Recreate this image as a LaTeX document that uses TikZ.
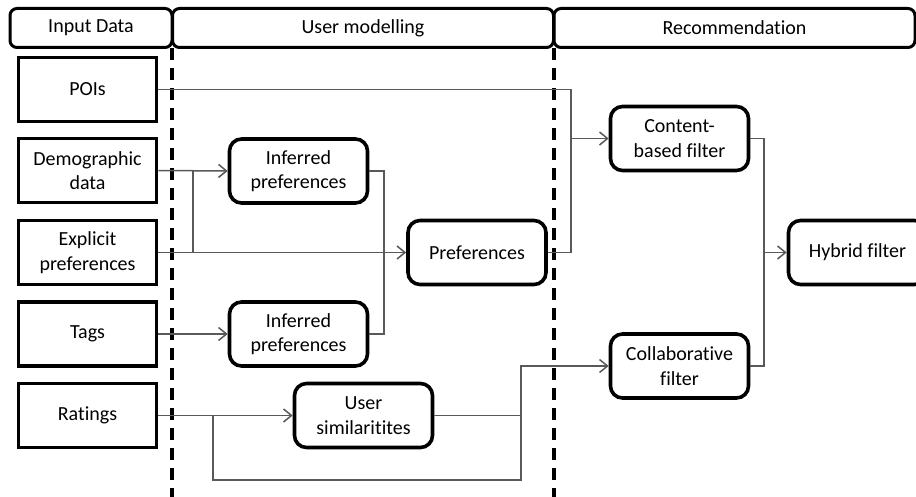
\documentclass[tikz,border=0pt]{standalone}
\usepackage{fontspec}
\setmainfont{Carlito}[RawFeature=-liga]
\usetikzlibrary{arrows.meta}
\begin{document}
\begin{tikzpicture}[x=1pt,y=-1pt,
  every node/.style={font=\fontsize{20}{24.5}\selectfont, align=center, inner sep=0pt},
  hdr/.style={draw, line width=3pt, rounded corners=7pt, minimum height=39pt},
  inbox/.style={draw, line width=3.6pt, minimum width=138pt, minimum height=64pt},
  rbox/.style={draw, line width=3.6pt, rounded corners=12pt, minimum width=138pt, minimum height=64pt},
  conn/.style={draw=black!65, line width=1.5pt},
  arr/.style={conn, -{Straight Barb[length=8pt,width=13pt,line width=1.5pt]}},
  lane/.style={line width=3.4pt, dash pattern=on 12pt off 8pt}
]
\useasboundingbox (0,0) rectangle (916,497);
\fill[white] (0,0) rectangle (916,497);

% lane separators
\coordinate (l1t) at (172,48);
\coordinate (l1b) at (172,497);
\coordinate (l2t) at (554,48);
\coordinate (l2b) at (554,497);
\draw[lane] (l1t) -- (l1b);
\draw[lane] (l2t) -- (l2b);

% headers
\node[hdr, minimum width=162pt] (h1) at (91,28) {Input Data};
\node[hdr, minimum width=381pt] (h2) at (363,28) {User modelling};
\node[hdr, minimum width=361pt] (h3) at (734.5,28) {Recommendation};

% input boxes
\node[inbox] (poi) at (87.5,89.5) {POIs};
\node[inbox] (demo) at (87.5,170.5) {Demographic\\data};
\node[inbox] (expl) at (87.5,252.5) {Explicit\\preferences};
\node[inbox] (tags) at (87.5,334) {Tags};
\node[inbox] (rat) at (87.5,415.5) {Ratings};

% user modelling boxes
\node[rbox] (inf1) at (298.5,171) {Inferred\\preferences};
\node[rbox] (inf2) at (298.5,334) {Inferred\\preferences};
\node[rbox] (pref) at (477,252.5) {Preferences};
\node[rbox] (usim) at (363.5,415.5) {User\\similaritites};

% recommendation boxes
\node[rbox] (cont) at (679.5,138.5) {Content-\\based filter};
\node[rbox] (coll) at (679.5,366) {Collaborative\\filter};
\node[rbox] (hyb) at (857.5,252.5) {Hybrid filter};

% connectors
\draw[arr] (poi.east) -| (571,138.5) -- (cont.west);
\draw[conn] (pref.east) -| (571,138.5);

\draw[arr] (demo.east) -- (inf1.west);
\draw[conn] (193,170.5) -- (193,252.5);
\draw[arr] (expl.east) -- (pref.west);

\draw[conn] (inf1.east) -| (384,334) -- (inf2.east);
\draw[arr] (tags.east) -- (inf2.west);

\draw[arr] (rat.east) -- (usim.west);
\draw[conn] (213,415.5) |- (521,480) -- (521,415.5);
\draw[conn] (usim.east) -- (521,415.5);
\draw[arr] (521,480) -- (521,366) -- (coll.west);

\draw[arr] (cont.east) -| (764,252.5) -- (hyb.west);
\draw[conn] (coll.east) -| (764,252.5);
\end{tikzpicture}
\end{document}
